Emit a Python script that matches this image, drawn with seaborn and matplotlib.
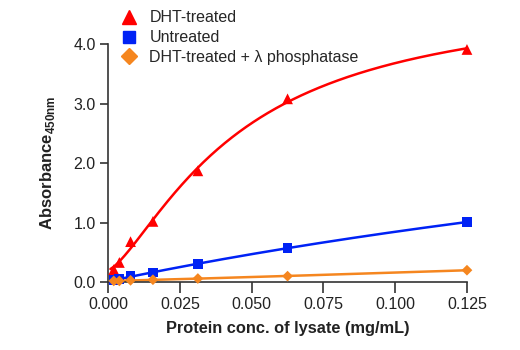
import numpy as np
import pandas as pd
import matplotlib
matplotlib.use("Agg")
import matplotlib.pyplot as plt
import seaborn as sns
from matplotlib.lines import Line2D

# colours
RED = "#FF0000"
BLUE = "#0022F5"
ORANGE = "#F5861F"

# data
conc = [0.00195, 0.0039, 0.0078, 0.0156, 0.03125, 0.0625, 0.125]
dht_treated = [0.21, 0.33, 0.68, 1.02, 1.87, 3.08, 3.91]
untreated = [0.03, 0.05, 0.10, 0.16, 0.31, 0.57, 1.01]
dht_phosphatase = [0.02, 0.02, 0.03, 0.04, 0.06, 0.10, 0.20]

labels = ["DHT-treated", "Untreated", "DHT-treated + \u03bb phosphatase"]
series = [dht_treated, untreated, dht_phosphatase]
colors = [RED, BLUE, ORANGE]
markers = ["^", "s", "D"]
msizes = [60, 50, 30]

sns.set_style("ticks")
plt.rcParams["font.family"] = ["Liberation Sans", "DejaVu Sans"]
plt.rcParams["mathtext.fontset"] = "custom"
plt.rcParams["mathtext.rm"] = "Liberation Sans:bold"


def fit_4pl(x, y):
    # y = d + (a - d) / (1 + (x/c)^b); grid over b, c, least squares for a, d
    x = np.asarray(x)
    y = np.asarray(y)
    best = None
    for b in np.linspace(0.6, 3.0, 49):
        for c in np.logspace(-2.5, 1, 140):
            g = 1.0 / (1.0 + (x / c) ** b)
            A = np.column_stack([g, 1 - g])
            coef, *_ = np.linalg.lstsq(A, y, rcond=None)
            err = np.sum((A @ coef - y) ** 2)
            if best is None or err < best[0]:
                best = (err, b, c, coef)
    _, b, c, coef = best
    return lambda t: coef[0] / (1 + (t / c) ** b) + coef[1] * (1 - 1 / (1 + (t / c) ** b))


fig, ax = plt.subplots(figsize=(5.2, 3.5), dpi=100)
fig.subplots_adjust(left=0.208, right=0.898, bottom=0.194, top=0.874)

xs = np.linspace(0.0008, 0.125, 300)
for lab, ys, col, mk, ms in zip(labels, series, colors, markers, msizes):
    f = fit_4pl(conc, ys)
    fit_df = pd.DataFrame({"x": xs, "y": f(xs)})
    sns.lineplot(data=fit_df, x="x", y="y", color=col, lw=1.8, ax=ax, clip_on=False)
    pts = pd.DataFrame({"x": conc, "y": ys})
    sns.scatterplot(data=pts, x="x", y="y", color=col, marker=mk, s=ms,
                    edgecolor="none", ax=ax, clip_on=False, zorder=5)

ax.set_xlim(0, 0.125)
ax.set_ylim(0, 4.0)
ax.set_xticks([0.0, 0.025, 0.05, 0.075, 0.1, 0.125])
ax.set_xticklabels(["0.000", "0.025", "0.050", "0.075", "0.100", "0.125"])
ax.set_yticks([0, 1, 2, 3, 4])
ax.set_yticklabels(["0.0", "1.0", "2.0", "3.0", "4.0"])
ax.tick_params(axis="x", direction="out", length=8, width=1.2, colors="#333333",
               labelsize=11.5, labelcolor="#222222", pad=3)
ax.tick_params(axis="y", direction="out", length=6, width=1.2, colors="#333333",
               labelsize=11.5, labelcolor="#222222", pad=3)
for sp in ["top", "right"]:
    ax.spines[sp].set_visible(False)
for sp in ["left", "bottom"]:
    ax.spines[sp].set_color("#333333")
    ax.spines[sp].set_linewidth(1.2)

ax.set_xlabel("Protein conc. of lysate (mg/mL)", fontsize=11.8, fontweight="bold",
              color="#222222", labelpad=6)
ax.set_ylabel(r"Absorbance$_{\mathrm{450nm}}$", fontsize=12, fontweight="bold",
              color="#222222", labelpad=12)

handles = [Line2D([], [], ls="none", marker=m, color=c, markersize=s)
           for m, c, s in zip(markers, colors, [9.5, 8.5, 8])]
fig.legend(handles, labels, loc="upper left", bbox_to_anchor=(0.209, 1.0),
           frameon=False, fontsize=11.5, handletextpad=0.7, labelspacing=0.3,
           handlelength=1.2, borderaxespad=0.25)

fig.savefig("out.png", dpi=100)
